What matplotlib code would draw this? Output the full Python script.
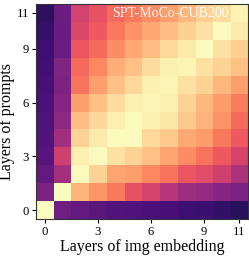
import matplotlib
matplotlib.use("Agg")
import matplotlib.pyplot as plt
import numpy as np

# rows: prompt layer 0..11 (bottom to top); columns: img embedding layer 0..11
row0 = [1.00, 0.33, 0.30, 0.28, 0.26, 0.25, 0.24, 0.23, 0.21, 0.20, 0.18, 0.16]
row1 = [0.36, 1.00, 0.84, 0.78, 0.72, 0.63, 0.58, 0.50, 0.44, 0.42, 0.38, 0.36]
row2 = [0.30, 0.46, 0.99, 0.91, 0.81, 0.80, 0.75, 0.71, 0.64, 0.61, 0.56, 0.48]
row3 = [0.27, 0.56, 0.97, 0.99, 0.94, 0.91, 0.87, 0.81, 0.76, 0.71, 0.65, 0.58]
row4 = [0.26, 0.45, 0.91, 0.96, 0.99, 0.99, 0.92, 0.89, 0.82, 0.79, 0.72, 0.65]
row5 = [0.25, 0.40, 0.86, 0.92, 0.97, 0.99, 0.97, 0.95, 0.89, 0.84, 0.77, 0.69]
row6 = [0.24, 0.38, 0.80, 0.87, 0.93, 0.97, 0.98, 0.97, 0.91, 0.85, 0.79, 0.73]
row7 = [0.23, 0.36, 0.71, 0.80, 0.87, 0.92, 0.97, 0.98, 0.94, 0.91, 0.85, 0.80]
row8 = [0.22, 0.37, 0.69, 0.75, 0.83, 0.87, 0.93, 0.97, 0.98, 0.94, 0.91, 0.87]
row9 = [0.21, 0.32, 0.64, 0.69, 0.76, 0.82, 0.86, 0.92, 0.96, 0.99, 0.94, 0.90]
row10 = [0.19, 0.31, 0.59, 0.65, 0.72, 0.77, 0.82, 0.86, 0.90, 0.94, 0.99, 0.96]
row11 = [0.17, 0.32, 0.57, 0.63, 0.69, 0.72, 0.76, 0.80, 0.85, 0.90, 0.93, 0.98]
ticks = [0, 3, 6, 9, 11]
title = "SPT-MoCo-CUB200"

data = np.array([row0, row1, row2, row3, row4, row5, row6, row7, row8, row9, row10, row11])

plt.rcParams['font.family'] = ['Liberation Serif', 'DejaVu Serif']

fig = plt.figure(figsize=(2.49, 2.56), dpi=100)
ax = fig.add_axes([36/249, 1-219/256, 212/249, 215/256])
ax.imshow(data, cmap='magma', vmin=0, vmax=1, origin='lower', aspect='auto',
          interpolation='nearest')
ax.set_xticks(ticks)
ax.set_yticks(ticks)
ax.tick_params(labelsize=9.2, length=3, width=0.8, pad=2)
ax.set_xlabel("Layers of img embedding", fontsize=11.5, labelpad=1)
ax.set_ylabel("Layers of prompts", fontsize=11.5)
ax.yaxis.set_label_coords(-0.099, 0.453)
ax.text(0.91, 0.956, title, transform=ax.transAxes, ha='right', va='center',
        color='white', alpha=0.92, fontsize=10)
for s in ax.spines.values():
    s.set_color('#333333')
    s.set_linewidth(0.8)
fig.savefig("out.png", dpi=100)
